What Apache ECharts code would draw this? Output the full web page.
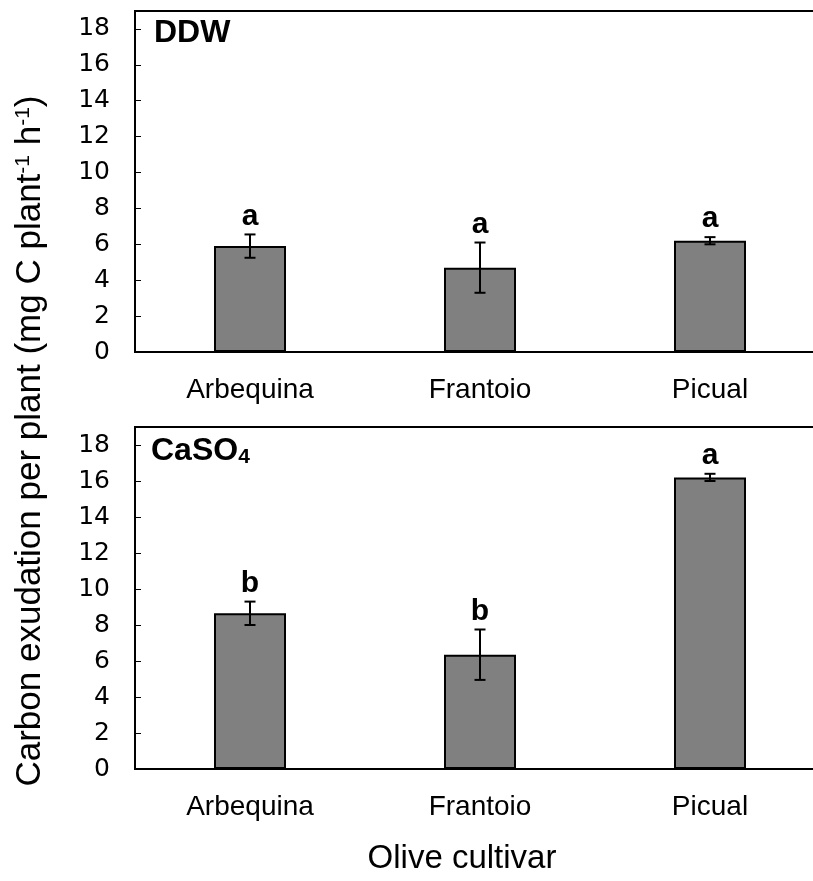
<!DOCTYPE html>
<html>
<head>
<meta charset="utf-8">
<script src="https://cdn.jsdelivr.net/npm/echarts@6/dist/echarts.min.js"></script>
<style>
  html, body { margin: 0; padding: 0; background: #fff; }
  #chart { width: 813px; height: 881px; }
</style>
</head>
<body>
<div id="chart"></div>
<script>
// Root carbon exudation per olive cultivar, two nutrient treatments
const cultivars = ['Arbequina', 'Frantoio', 'Picual'];

const ddwMean = [5.9, 4.7, 6.2];
const ddwErr = [0.65, 1.4, 0.2];
const ddwLetters = ['a', 'a', 'a'];

const caso4Mean = [8.65, 6.35, 16.2];
const caso4Err = [0.65, 1.4, 0.2];
const caso4Letters = ['b', 'b', 'a'];

const yTicks = { min: 0, max: 19, interval: 2 };

const FONT = '"Liberation Sans", Arial, sans-serif';

function errorItems(means, errs, letters) {
  return means.map((m, i) => [i, m, errs[i], letters[i]]);
}

function renderError(params, api) {
  const x = api.value(0);
  const m = api.value(1);
  const e = api.value(2);
  const letter = api.value(3);
  const hi = api.coord([x, m + e]);
  const lo = api.coord([x, m - e]);
  const cap = 5.5;
  const ls = { stroke: '#000', lineWidth: 2 };
  return {
    type: 'group',
    children: [
      { type: 'line', shape: { x1: hi[0], y1: hi[1], x2: lo[0], y2: lo[1] }, style: ls },
      { type: 'line', shape: { x1: hi[0] - cap, y1: hi[1], x2: hi[0] + cap, y2: hi[1] }, style: ls },
      { type: 'line', shape: { x1: lo[0] - cap, y1: lo[1], x2: lo[0] + cap, y2: lo[1] }, style: ls },
      {
        type: 'text',
        x: hi[0], y: hi[1] - 3,
        style: {
          text: letter, fill: '#000',
          font: 'bold 30px ' + FONT,
          textAlign: 'center', textVerticalAlign: 'bottom'
        }
      }
    ]
  };
}

function xAxisFor(gridIndex) {
  return {
    type: 'category', gridIndex, data: cultivars,
    axisLine: { lineStyle: { color: '#000', width: 2 } },
    axisTick: { show: false },
    axisLabel: { color: '#000', fontSize: 28, fontFamily: FONT, margin: 24 }
  };
}

function yAxisFor(gridIndex) {
  return {
    type: 'value', gridIndex,
    min: yTicks.min, max: yTicks.max, interval: yTicks.interval,
    axisLine: { show: true, lineStyle: { color: '#000', width: 2 } },
    axisTick: { show: true, inside: true, length: 6, lineStyle: { color: '#000', width: 1 } },
    axisLabel: {
      color: '#000', fontSize: 25, fontFamily: '"DejaVu Sans", Verdana, sans-serif',
      margin: 25, showMaxLabel: false
    },
    splitLine: { show: false }
  };
}

function barSeries(idx, data) {
  return {
    type: 'bar', xAxisIndex: idx, yAxisIndex: idx, data,
    barWidth: 72,
    itemStyle: { color: '#808080', borderColor: '#000', borderWidth: 2 },
    silent: true
  };
}

const chart = echarts.init(document.getElementById('chart'), null, { renderer: 'canvas' });

const gridBase = {
  left: 135, width: 690, show: true, borderColor: '#000', borderWidth: 2,
  containLabel: false, outerBoundsMode: 'none'
};

chart.setOption({
  animation: false,
  backgroundColor: '#fff',
  grid: [
    Object.assign({ top: 11, height: 341 }, gridBase),
    Object.assign({ top: 427, height: 342 }, gridBase)
  ],
  xAxis: [xAxisFor(0), xAxisFor(1)],
  yAxis: [yAxisFor(0), yAxisFor(1)],
  series: [
    barSeries(0, ddwMean),
    { type: 'custom', xAxisIndex: 0, yAxisIndex: 0, data: errorItems(ddwMean, ddwErr, ddwLetters), renderItem: renderError, z: 5 },
    barSeries(1, caso4Mean),
    { type: 'custom', xAxisIndex: 1, yAxisIndex: 1, data: errorItems(caso4Mean, caso4Err, caso4Letters), renderItem: renderError, z: 5 }
  ],
  graphic: [
    {
      type: 'text', left: 154, top: 17,
      style: { text: 'DDW', font: 'bold 32px ' + FONT, fill: '#000' }
    },
    {
      type: 'text', left: 151, top: 435,
      style: {
        text: 'CaSO{sub|4}',
        font: 'bold 32px ' + FONT, fill: '#000',
        rich: { sub: { font: 'bold 21px ' + FONT, fill: '#000', padding: [12, 0, 0, 0] } }
      }
    },
    {
      type: 'text', x: 30, y: 441, rotation: Math.PI / 2,
      style: {
        text: 'Carbon exudation per plant (mg C plant{sup|-1} h{sup|-1})',
        font: '35px ' + FONT, fill: '#000',
        textAlign: 'center', textVerticalAlign: 'middle',
        rich: { sup: { font: '21px ' + FONT, fill: '#000', padding: [0, 0, 14, 0] } }
      }
    },
    {
      type: 'text', x: 462, y: 859,
      style: {
        text: 'Olive cultivar', font: '33px ' + FONT, fill: '#000',
        textAlign: 'center', textVerticalAlign: 'middle'
      }
    }
  ]
});
</script>
</body>
</html>
